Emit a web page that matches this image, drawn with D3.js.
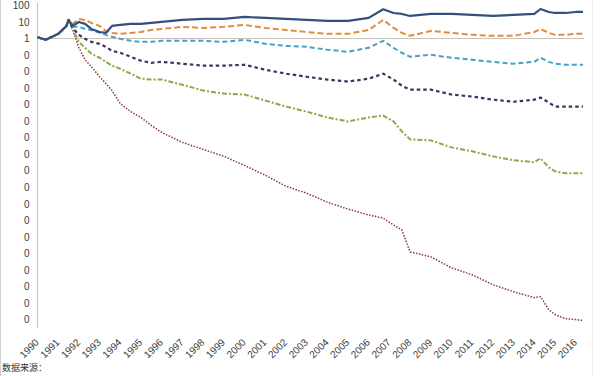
<!DOCTYPE html>
<html lang="zh">
<head>
<meta charset="UTF-8">
<title>净值走势</title>
<script src="https://cdn.jsdelivr.net/npm/d3@7/dist/d3.min.js"></script>
<style>
  body { margin: 0; background: #fff; }
  svg { display: block; font-family: "Liberation Sans", "Noto Sans", sans-serif; }
</style>
</head>
<body>
<div id="chart"></div>
<script>
// ---- data (log scale) ----
const years = [1990, 1990.4, 1991.0, 1991.4, 1991.5, 1991.7, 1992.0, 1992.3, 1992.6, 1993.0, 1993.3, 1993.6,
  1994.0, 1994.5, 1995.0, 1995.5, 1996, 1997, 1998, 1999, 2000, 2001, 2002, 2003, 2004, 2005, 2006,
  2006.7, 2007.2, 2007.6, 2008, 2009, 2010, 2011, 2012, 2013, 2014, 2014.3, 2014.7, 2015, 2015.5, 2016, 2016.35];

const blueVals = [1.2, 0.85, 1.92, 5.8, 13.4, 5.8, 10.1, 7.7, 3.8, 2.5, 2.2, 5.8,
  6.7, 7.7, 7.7, 8.8, 10.1, 13.4, 15.4, 15.4, 20.3, 17.7, 15.4, 13.4, 11.6, 11.6, 17.7,
  59, 35.3, 30.8, 23.3, 30.8, 30.8, 26.8, 23.3, 26.8, 30.8, 61.5, 40.6, 35.3, 35.3, 40.6, 40.6];

const orangeVals = [1.2, 0.85, 1.92, 5.8, 13.4, 7.7, 15.4, 13.4, 8.8, 5.8, 2.9, 2.2,
  1.92, 2.2, 2.5, 3.3, 3.8, 5.1, 4.4, 5.1, 6.7, 4.4, 3.3, 2.5, 1.92, 1.92, 3.3,
  13.4, 4.4, 2.2, 1.46, 2.9, 2.2, 1.67, 1.46, 1.46, 2.5, 3.8, 2.2, 1.67, 1.67, 1.92, 1.92];

const tealVals = [1.2, 0.85, 1.92, 5.8, 13.4, 5.1, 5.1, 3.8, 3.3, 2.2, 1.67, 1.27,
  0.96, 0.73, 0.63, 0.63, 0.73, 0.73, 0.73, 0.63, 0.84, 0.48, 0.36, 0.316, 0.21, 0.158, 0.275,
  0.73, 0.275, 0.138, 0.079, 0.104, 0.069, 0.052, 0.039, 0.030, 0.039, 0.069, 0.039, 0.030, 0.026, 0.026, 0.026];

const purpleVals = [1.2, 0.85, 1.92, 5.8, 13.4, 4.4, 1.67, 0.96, 0.63, 0.48, 0.316, 0.18,
  0.138, 0.079, 0.045, 0.034, 0.039, 0.030, 0.023, 0.023, 0.026, 0.013, 0.0075, 0.0049, 0.0033, 0.0025, 0.0037,
  0.0075, 0.0033, 0.0014, 8.1e-4, 8.1e-4, 4.1e-4, 3.1e-4, 2.0e-4, 1.5e-4, 2.0e-4, 2.7e-4, 1.34e-4, 7.7e-5, 7.7e-5, 7.7e-5, 7.7e-5];

const greenVals = [1.2, 0.85, 1.92, 5.8, 13.4, 3.8, 0.63, 0.275, 0.12, 0.069, 0.039, 0.023,
  0.015, 0.0075, 0.0037, 0.0033, 0.0033, 0.0016, 7.1e-4, 4.7e-4, 4.1e-4, 1.77e-4, 7.7e-5, 3.8e-5, 1.67e-5, 9.6e-6, 1.67e-5,
  2.2e-5, 9.6e-6, 2.4e-6, 7.9e-7, 6.9e-7, 2.6e-7, 1.5e-7, 7.5e-8, 4.3e-8, 3.3e-8, 5.7e-8, 1.6e-8, 9.3e-9, 7.1e-9, 7.1e-9, 7.1e-9];

const redVals = [1.2, 0.85, 1.92, 5.8, 13.4, 3.3, 0.275, 0.052, 0.020, 0.0049, 0.0019, 7.1e-4,
  1.16e-4, 3.8e-5, 1.67e-5, 5.5e-6, 2.1e-6, 5.2e-7, 1.97e-7, 7.5e-8, 2.1e-8, 5.4e-9, 1.16e-9, 4.4e-10, 1.26e-10, 4.8e-11, 2.1e-11,
  1.38e-11, 5.2e-12, 2.6e-12, 1.23e-13, 6.2e-14, 1.34e-14, 5.1e-15, 1.26e-15, 4.8e-16, 2.1e-16, 2.4e-16, 3.9e-17, 2.0e-17, 1.13e-17, 9.9e-18, 8.8e-18];

const xTickLabels = d3.range(1990, 2017).map(String);
const yTickValues = d3.range(-17, 3).map(k => Math.pow(10, k));

// ---- setup ----
const width = 600, height = 376;
const svg = d3.select("#chart").append("svg")
  .attr("width", width).attr("height", height);

const x = d3.scaleLinear().domain([1990, 2016.4]).range([37.5, 584]);
const y = d3.scaleLog().domain([1e-17, 100]).range([319.5, 5.5]);

// screenshot borders
svg.append("line").attr("x1", 0.5).attr("x2", 0.5).attr("y1", 0).attr("y2", height)
  .attr("stroke", "#d0d0d0");
svg.append("line").attr("x1", 592.5).attr("x2", 592.5).attr("y1", 0).attr("y2", height)
  .attr("stroke", "#ececec");

// y axis
const yAxis = svg.append("g").attr("transform", `translate(${x(1990)},0)`)
  .call(d3.axisLeft(y).tickValues(yTickValues).tickSize(0).tickPadding(8)
    .tickFormat(v => v >= 1 ? String(Math.round(v)) : "0"));
yAxis.select(".domain").remove();
yAxis.selectAll("text").attr("font-size", 10).attr("fill", "#404040");
svg.append("line").attr("x1", x(1990)).attr("x2", x(1990)).attr("y1", 3).attr("y2", 328)
  .attr("stroke", "#c8c8c8").attr("stroke-width", 1.2);

// horizontal axis line crossing at 1
svg.append("line").attr("x1", x(1990)).attr("x2", x(2016.4))
  .attr("y1", y(1)).attr("y2", y(1))
  .attr("stroke", "#c9bfb4").attr("stroke-width", 1);

// x labels (rotated)
svg.append("g").selectAll("text").data(xTickLabels).join("text")
  .attr("transform", d => `translate(${x(+d) + 2},${343}) rotate(-45)`)
  .attr("text-anchor", "end")
  .attr("font-size", 10)
  .attr("fill", "#404040")
  .text(d => d);

// ---- lines ----
const series = [
  { vals: redVals, color: "#8a3a3a", width: 1.5, dash: "1.5,1.5" },
  { vals: greenVals, color: "#8aab4c", width: 2, dash: "5,2,2,2" },
  { vals: purpleVals, color: "#3d355f", width: 2.2, dash: "3.5,3" },
  { vals: tealVals, color: "#4aa1c6", width: 2, dash: "5,3" },
  { vals: orangeVals, color: "#e38d3c", width: 2, dash: "6,3" },
  { vals: blueVals, color: "#33507c", width: 2.2, dash: null }
];

const line = d3.line()
  .x(d => x(d[0]))
  .y(d => y(d[1]));

svg.append("g").selectAll("path").data(series).join("path")
  .attr("fill", "none")
  .attr("stroke", d => d.color)
  .attr("stroke-width", d => d.width)
  .attr("stroke-dasharray", d => d.dash)
  .attr("stroke-linejoin", "round")
  .attr("d", d => line(years.map((t, i) => [t, d.vals[i]])));

// source note
svg.append("text").attr("x", 2).attr("y", 371)
  .attr("font-size", 9).attr("fill", "#333")
  .attr("font-family", "Noto Sans CJK SC")
  .text("数据来源：");
</script>
</body>
</html>
